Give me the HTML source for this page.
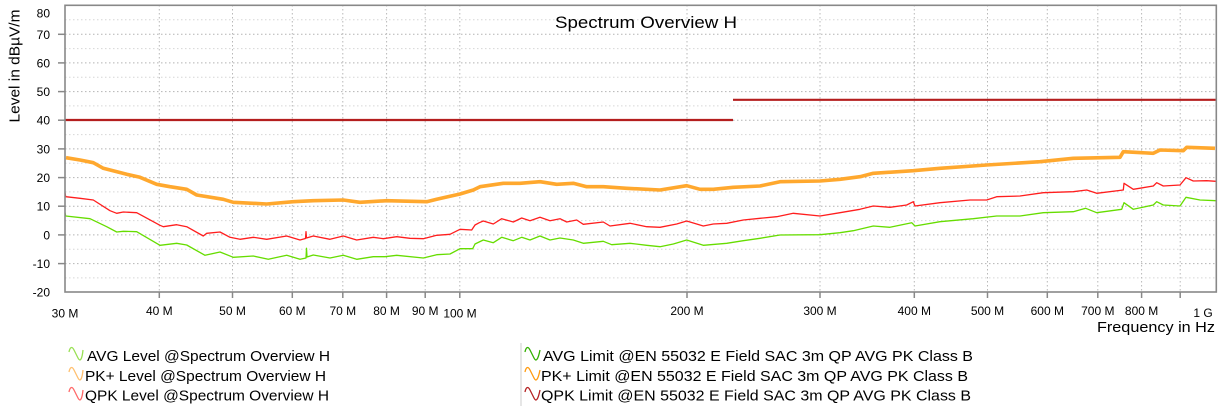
<!DOCTYPE html>
<html><head><meta charset="utf-8"><style>
html,body{margin:0;padding:0;background:#fff;}
svg{display:block;font-family:"Liberation Sans",Arial,sans-serif;}
</style></head><body>
<svg width="1222" height="414" viewBox="0 0 1222 414" xmlns="http://www.w3.org/2000/svg">
<rect x="0" y="0" width="1222" height="414" fill="#fff"/>
<!-- minor horizontal grid -->
<g stroke="#d6d6d6" stroke-width="1" stroke-dasharray="1.5 2.5">
<line x1="65" x2="1216" y1="19.8" y2="19.8"/><line x1="65" x2="1216" y1="48.6" y2="48.6"/><line x1="65" x2="1216" y1="77.3" y2="77.3"/><line x1="65" x2="1216" y1="105.9" y2="105.9"/><line x1="65" x2="1216" y1="134.6" y2="134.6"/><line x1="65" x2="1216" y1="163.2" y2="163.2"/><line x1="65" x2="1216" y1="191.9" y2="191.9"/><line x1="65" x2="1216" y1="220.6" y2="220.6"/><line x1="65" x2="1216" y1="249.2" y2="249.2"/><line x1="65" x2="1216" y1="277.9" y2="277.9"/>
</g>
<!-- major horizontal grid -->
<g stroke="#b4b4b4" stroke-width="1" stroke-dasharray="1.5 2.5">
<line x1="65" x2="1216" y1="34.3" y2="34.3"/><line x1="65" x2="1216" y1="62.9" y2="62.9"/><line x1="65" x2="1216" y1="91.6" y2="91.6"/><line x1="65" x2="1216" y1="120.2" y2="120.2"/><line x1="65" x2="1216" y1="148.9" y2="148.9"/><line x1="65" x2="1216" y1="177.6" y2="177.6"/><line x1="65" x2="1216" y1="206.2" y2="206.2"/><line x1="65" x2="1216" y1="234.9" y2="234.9"/><line x1="65" x2="1216" y1="263.6" y2="263.6"/>
</g>
<!-- vertical grid -->
<g stroke="#b8b8b8" stroke-width="1" stroke-dasharray="1.5 2.5">
<line y1="5" y2="292" x1="159.3" x2="159.3"/><line y1="5" y2="292" x1="232.5" x2="232.5"/><line y1="5" y2="292" x1="292.3" x2="292.3"/><line y1="5" y2="292" x1="342.8" x2="342.8"/><line y1="5" y2="292" x1="386.6" x2="386.6"/><line y1="5" y2="292" x1="425.2" x2="425.2"/><line y1="5" y2="292" x1="459.8" x2="459.8"/><line y1="5" y2="292" x1="687" x2="687"/><line y1="5" y2="292" x1="820" x2="820"/><line y1="5" y2="292" x1="914.3" x2="914.3"/><line y1="5" y2="292" x1="987.5" x2="987.5"/><line y1="5" y2="292" x1="1047.3" x2="1047.3"/><line y1="5" y2="292" x1="1097.8" x2="1097.8"/><line y1="5" y2="292" x1="1141.6" x2="1141.6"/><line y1="5" y2="292" x1="1180.2" x2="1180.2"/>
</g>
<!-- limit lines -->
<g stroke="#b41e1e" stroke-width="2.2" fill="none">
<line x1="65" x2="733" y1="120" y2="120"/>
<line x1="733" x2="1216" y1="99.8" y2="99.8"/>
</g>
<!-- PK+ -->
<polyline fill="none" stroke="#ffa82e" stroke-width="3.6" stroke-linejoin="round" points="66,157.7 80,160 93.3,162.7 103.3,168.3 126.7,174.3 140,177.3 156.7,184.3 170,186.7 186.7,189.3 196.7,195 223.3,199.3 233.3,202.3 266.7,204 293.3,201.7 313.3,200.7 343.3,200 360,202.3 386.7,200.7 426.7,201.7 436.7,199.3 460,194 473.3,190 480,186.7 503.3,183.3 520,183.3 540,181.7 556.7,184.3 573.3,183.3 586.7,186.7 603.3,186.7 626.7,188.3 660,190 686.7,185.7 700,189.3 713.3,189.3 733.3,187.3 760,186 780,181.7 820,181 840,179.3 860,176.7 873.3,173.3 913.3,170.7 940,168.3 986.7,165 1040,161.7 1073.3,158.3 1120,157.3 1123.3,151.7 1153.3,153.3 1160,150 1183.3,150.7 1186.7,147.3 1215,148.3"/>
<!-- QPK -->
<polyline fill="none" stroke="#ff1e1e" stroke-width="1.3" stroke-linejoin="round" points="65,192.7 65.7,196.7 80,198.3 93.3,200 110,210.7 116.7,213.3 123.3,212 136.7,212.7 160,225.3 163.3,226.7 176.7,224.7 186.7,226.7 203.3,236 206.7,233.3 220,232 230,237.3 240,239.3 253.3,237.3 266.7,239.3 286.7,236 300,240 305.5,238.5 306,231.7 306.5,238 313.3,236 330,239.3 343.3,236 356.7,240 373.3,237.3 383.3,238.7 396.7,236.7 410,238.3 423.3,238.7 436.7,235.3 450,234.3 460,229.3 471.7,230 475,225 479.3,222.7 483.3,221 493.3,224 501.7,218.7 513.3,222 521.7,218 530,220.7 540,217.3 550,220.7 560,218.7 566.7,222 576.7,220 583.3,224.3 603.3,222 610,226 630,223.3 646.7,226.7 660,227.3 676.7,224 686.7,221 703.3,226 713.3,224 726.7,223.3 743.3,220 760,218.3 776.7,216.7 793.3,213.3 820,216 840,212.7 860,209.3 873.3,206 890,207.3 906.7,205 913.3,201.7 915,206 940,202.7 970,200 986.7,200 996.7,196.7 1020,196 1043.3,192.7 1073.3,191.7 1086.7,190 1096.7,193.3 1123.3,190 1124,183.3 1133.3,189.3 1153.3,186 1156.7,182.7 1163.3,186 1180,185 1186,177.7 1193.3,181 1206.7,180.7 1216,181.3"/>
<!-- AVG -->
<polyline fill="none" stroke="#66dd00" stroke-width="1.3" stroke-linejoin="round" points="65,212.7 65.7,216 90,218.7 106.7,226.7 116.7,232 123.3,231.3 136.7,231.7 160,245.3 176.7,243.3 186.7,245 205,255.3 220,252 233.3,257.3 253.3,256 268.3,259.3 286.7,255.3 300,259.3 306,258 306.5,248.3 307,257 313.3,255 330,258 343.3,255.3 356.7,259.3 373.3,256.7 385,256.7 396.7,255.3 423.3,258 436.7,254.7 450,254 460,248.7 472.7,248.7 475,244 483.3,240 493.3,242.7 501.7,237.3 513.3,240.7 521.7,237.3 530,240 540,236 550,240 560,238 573.3,240 583.3,243.3 603.3,241.3 611.7,244.7 630,243.3 646.7,245.3 660,246.7 673.3,244 686.7,240 703.3,245.3 726.7,243.3 743.3,240.7 760,238.3 780,235 820,234.7 840,232.7 853.3,230.7 873.3,226 890,227.3 911.7,222.7 915,226 940,221.7 973.3,218.7 996.7,216 1020,216 1043.3,212.7 1073.3,211.7 1085.7,208.3 1096.7,212.7 1121.7,209.3 1124,202.7 1133.3,209.3 1153.3,205 1156.7,201.7 1163.3,205 1180,206 1186,197.3 1200,200 1216,200.7"/>
<!-- frame -->
<rect x="65" y="5.3" width="1151.3" height="286.7" fill="none" stroke="#888" stroke-width="1.6"/>
<!-- y ticks -->
<g stroke="#888" stroke-width="1.5">
<line x1="58" x2="65" y1="34.3" y2="34.3"/><line x1="58" x2="65" y1="62.9" y2="62.9"/><line x1="58" x2="65" y1="91.6" y2="91.6"/><line x1="58" x2="65" y1="120.2" y2="120.2"/><line x1="58" x2="65" y1="148.9" y2="148.9"/><line x1="58" x2="65" y1="177.6" y2="177.6"/><line x1="58" x2="65" y1="206.2" y2="206.2"/><line x1="58" x2="65" y1="234.9" y2="234.9"/><line x1="58" x2="65" y1="263.6" y2="263.6"/>
</g>
<!-- x ticks -->
<g stroke="#888" stroke-width="1.5">
<line y1="292" y2="298" x1="159.3" x2="159.3"/><line y1="292" y2="298" x1="232.5" x2="232.5"/><line y1="292" y2="298" x1="292.3" x2="292.3"/><line y1="292" y2="298" x1="342.8" x2="342.8"/><line y1="292" y2="298" x1="386.6" x2="386.6"/><line y1="292" y2="298" x1="425.2" x2="425.2"/><line y1="292" y2="298" x1="459.8" x2="459.8"/><line y1="292" y2="298" x1="687" x2="687"/><line y1="292" y2="298" x1="820" x2="820"/><line y1="292" y2="298" x1="914.3" x2="914.3"/><line y1="292" y2="298" x1="987.5" x2="987.5"/><line y1="292" y2="298" x1="1047.3" x2="1047.3"/><line y1="292" y2="298" x1="1097.8" x2="1097.8"/><line y1="292" y2="298" x1="1141.6" x2="1141.6"/><line y1="292" y2="298" x1="1180.2" x2="1180.2"/>
</g>
<!-- y labels -->
<g font-size="12" fill="#000" text-anchor="end">
<text x="50" y="17.3">80</text><text x="50" y="38.8">70</text><text x="50" y="67.3">60</text><text x="50" y="96">50</text><text x="50" y="124.6">40</text><text x="50" y="153.3">30</text><text x="50" y="182">20</text><text x="50" y="210.6">10</text><text x="50" y="239.3">0</text><text x="50" y="268">-10</text><text x="50" y="296.3">-20</text>
</g>
<!-- x labels -->
<g font-size="12" fill="#000" text-anchor="middle">
<text x="65" y="317.5">30 M</text><text x="159.3" y="315">40 M</text><text x="232.5" y="315">50 M</text><text x="292.3" y="315">60 M</text><text x="342.8" y="315">70 M</text><text x="386.6" y="315">80 M</text><text x="425.2" y="315">90 M</text><text x="460" y="317.5">100 M</text><text x="687" y="315">200 M</text><text x="820" y="315">300 M</text><text x="914.3" y="315">400 M</text><text x="987.5" y="315">500 M</text><text x="1047.3" y="315">600 M</text><text x="1097.8" y="315">700 M</text><text x="1141.6" y="315">800 M</text><text x="1203" y="317">1 G</text>
</g>
<text x="1215" y="332" font-size="15" text-anchor="end" fill="#000" textLength="118" lengthAdjust="spacingAndGlyphs">Frequency in Hz</text>
<text transform="translate(19.5,66) rotate(-90)" font-size="15" text-anchor="middle" fill="#000" textLength="113" lengthAdjust="spacingAndGlyphs">Level in dBµV/m</text>
<text x="555" y="28" font-size="17" fill="#000" textLength="182" lengthAdjust="spacingAndGlyphs">Spectrum Overview H</text>
<!-- legend -->
<line x1="521" x2="521" y1="343" y2="406" stroke="#ddd" stroke-width="1.5"/>
<g fill="none" stroke-width="1.3">
<path d="M69,352 C70,347 72,346 74,350 L78,358 C80,362 82,360 83,350" stroke="#99e055"/>
<path d="M69,372 C70,367 72,366 74,370 L78,378 C80,382 82,380 83,370" stroke="#ffc070"/>
<path d="M69,392 C70,387 72,386 74,390 L78,398 C80,402 82,400 83,390" stroke="#ff6a6a"/>
<path d="M525,352 C526,347 528,346 530,350 L534,358 C536,362 538,360 540,350" stroke="#33b000"/>
<path d="M525,372 C526,367 528,366 530,370 L534,378 C536,382 538,380 540,370" stroke="#ff9a10"/>
<path d="M525,392 C526,387 528,386 530,390 L534,398 C536,402 538,400 540,390" stroke="#b42222"/>
</g>
<g font-size="15" fill="#000">
<text x="87" y="361" textLength="243" lengthAdjust="spacingAndGlyphs">AVG Level @Spectrum Overview H</text>
<text x="85" y="381" textLength="241" lengthAdjust="spacingAndGlyphs">PK+ Level @Spectrum Overview H</text>
<text x="85" y="400.5" textLength="244" lengthAdjust="spacingAndGlyphs">QPK Level @Spectrum Overview H</text>
<text x="543" y="361" textLength="430" lengthAdjust="spacingAndGlyphs">AVG Limit @EN 55032 E Field SAC 3m QP AVG PK Class B</text>
<text x="541" y="381" textLength="427" lengthAdjust="spacingAndGlyphs">PK+ Limit @EN 55032 E Field SAC 3m QP AVG PK Class B</text>
<text x="541" y="400.5" textLength="430" lengthAdjust="spacingAndGlyphs">QPK Limit @EN 55032 E Field SAC 3m QP AVG PK Class B</text>
</g>
</svg>
</body></html>
